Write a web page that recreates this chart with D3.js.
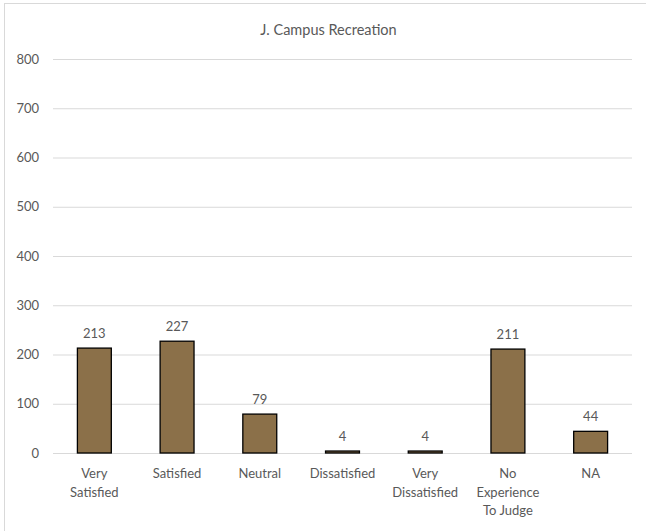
<!DOCTYPE html>
<html><head><meta charset="utf-8">
<script src="https://cdn.jsdelivr.net/npm/d3@7"></script>
<style>body{margin:0;background:#fff}svg{display:block}text{font-family:Lato,"Open Sans",sans-serif;fill:#595959}</style>
</head><body>
<script>
const categories = [["Very","Satisfied"],["Satisfied"],["Neutral"],["Dissatisfied"],["Very","Dissatisfied"],["No","Experience","To Judge"],["NA"]];
const values = [213,227,79,4,4,211,44];
const yTicks = [0,100,200,300,400,500,600,700,800];
const title = "J. Campus Recreation";

const W=646,H=531;
const svg=d3.select("body").append("svg").attr("width",W).attr("height",H);
svg.append("rect").attr("x",4.5).attr("y",3.5).attr("width",W+10).attr("height",H+10)
  .attr("fill","#fff").attr("stroke","#d9d9d9").attr("stroke-width",1);

const m={l:53,r:632,t:59,b:453};
const x=d3.scaleBand().domain(d3.range(values.length)).range([m.l,m.r]).paddingInner(0.59).paddingOuter(0.295);
const y=d3.scaleLinear().domain([0,800]).range([m.b,m.t]);

svg.append("text").attr("x",(m.l+m.r)/2-14).attr("y",35).attr("text-anchor","middle")
  .attr("font-size",14.5).text(title);

const ya=svg.append("g").attr("transform",`translate(${m.l},0)`)
  .call(d3.axisLeft(y).tickValues(yTicks).tickSize(-(m.r-m.l)).tickPadding(14).tickFormat(d3.format("d")));
ya.select(".domain").remove();
ya.selectAll(".tick line").attr("stroke","#d9d9d9").attr("stroke-width",1);
ya.selectAll(".tick text").attr("font-size",13).style("fill","#595959").style("font-family","Lato,sans-serif");

svg.selectAll("rect.bar").data(values).join("rect").attr("class","bar")
  .attr("x",(d,i)=>x(i)).attr("width",x.bandwidth())
  .attr("y",d=>y(d)).attr("height",d=>y(0)-y(d))
  .attr("fill","#8b7049").attr("stroke","#000").attr("stroke-width",1.3);

svg.selectAll("text.val").data(values).join("text").attr("class","val")
  .attr("x",(d,i)=>x(i)+x.bandwidth()/2).attr("y",d=>y(d)-10)
  .attr("text-anchor","middle").attr("font-size",13).text(d=>d);

const cl=svg.selectAll("text.cat").data(categories).join("text").attr("class","cat")
  .attr("text-anchor","middle").attr("font-size",13);
cl.each(function(lines,i){
  const t=d3.select(this);
  lines.forEach((s,j)=>t.append("tspan").attr("x",x(i)+x.bandwidth()/2).attr("y",478+j*18.5).text(s));
});
</script>
</body></html>
